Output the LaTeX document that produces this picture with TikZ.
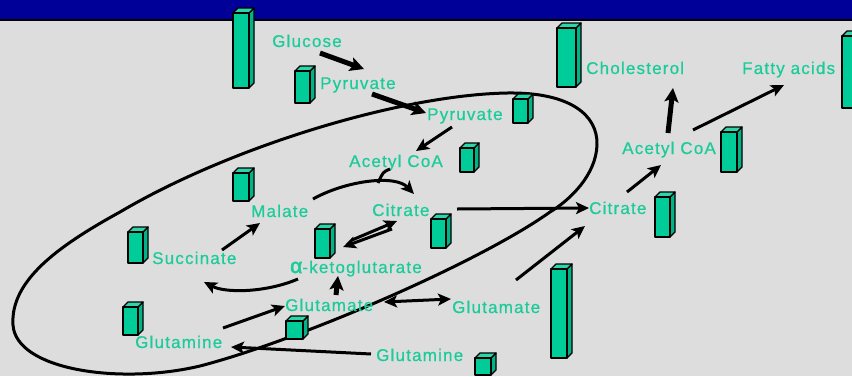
\documentclass[tikz,border=0pt]{standalone}
\usepackage{fontspec}
\setmainfont{Liberation Sans}[LetterSpace=7,FakeBold=0.6]
\usetikzlibrary{arrows.meta}
\definecolor{titleblue}{RGB}{0,0,153}
\definecolor{paper}{RGB}{221,221,221}
\definecolor{tealfront}{RGB}{0,204,153}
\definecolor{tealtop}{RGB}{45,214,170}
\definecolor{tealside}{RGB}{0,180,135}
\definecolor{labelteal}{RGB}{26,204,153}
% a small 3-D bar: x, y (top of front face), width, height
\newcommand\tealbar[4]{%
  \filldraw[boxedge,fill=tealside] (#1+#3,#2) -- ++(5,-5) -- ++(0,#4) -- ++(-5,5) -- cycle;
  \filldraw[boxedge,fill=tealtop] (#1,#2) -- ++(5,-5) -- ++(#3,0) -- ++(-5,5) -- cycle;
  \filldraw[boxedge,fill=tealfront] (#1,#2) rectangle ++(#3,#4);}
\begin{document}
\begin{tikzpicture}[x=1pt,y=-1pt,
  lbl/.style={anchor=base west,inner sep=0pt,text=labelteal,font=\fontsize{17}{20}\selectfont},
  flow/.style={line width=3pt,-{Stealth[length=13pt,width=12pt,inset=3pt]}},
  boldflow/.style={line width=5pt,-{Stealth[length=14pt,width=14pt,inset=3pt]}},
  twoway/.style={line width=3pt,{Stealth[length=13pt,width=12pt,inset=3pt]}-{Stealth[length=13pt,width=12pt,inset=3pt]}},
  membrane/.style={line width=3pt,line join=round},
  boxedge/.style={draw=black,line width=1.3pt,line join=round}]
\useasboundingbox (0,0) rectangle (852,376);
\clip (0,0) rectangle (852,376);
% page and title band
\fill[paper] (0,0) rectangle (852,376);
\fill[titleblue] (0,0) rectangle (852,19);
\draw[line width=1.6pt] (0,19.8) -- (852,19.8);

% mitochondrion outline
\draw[membrane] (13,325) .. controls (10,280) and (60,245) .. (120,212)
  .. controls (230,147) and (400,95) .. (507,93)
  .. controls (570,92) and (598,115) .. (597,145)
  .. controls (596,175) and (570,200) .. (550,212)
  .. controls (480,262) and (300,340) .. (200,366)
  .. controls (120,385) and (16,370) .. cycle;

% bars
\tealbar{233}{13}{16}{75}
\tealbar{295}{71}{15}{32}
\tealbar{513}{99}{15}{24}
\tealbar{557}{28}{19}{59}
\tealbar{842}{36}{16}{72}
\tealbar{721}{132}{16}{40}
\tealbar{655}{197}{15}{40}
\tealbar{460}{148}{14}{24}
\tealbar{233}{173}{16}{28}
\tealbar{315}{229}{15}{29}
\tealbar{431}{219}{15}{29}
\tealbar{128}{232}{15}{31}
\tealbar{123}{307}{15}{28}
\tealbar{286}{321}{17}{18}
\tealbar{475}{358}{16}{17}
\tealbar{551}{269}{16}{89}

% metabolites
\node[lbl] (glucose) at (272,47) {Glucose};
\node[lbl] (pyrC) at (320,89) {Pyruvate};
\node[lbl] (pyrM) at (427,120) {Pyruvate};
\node[lbl] (chol) at (586,74) {Cholesterol};
\node[lbl] (fatty) at (742,74) {Fatty acids};
\node[lbl] (acoaC) at (622,154) {Acetyl CoA};
\node[lbl] (acoaM) at (349,167) {Acetyl CoA};
\node[lbl] (malate) at (251,217) {Malate};
\node[lbl] (citM) at (372,216) {Citrate};
\node[lbl] (citC) at (589,214) {Citrate};
\node[lbl] (succ) at (152,264) {Succinate};
\node[lbl] (akg) at (290,273) {{\addfontfeature{FakeBold=2.5}\fontsize{21}{21}\selectfont α}-ketoglutarate};
\node[lbl] (gluM) at (285,311) {Glutamate};
\node[lbl] (gluC) at (452,313) {Glutamate};
\node[lbl] (glnM) at (135,348) {Glutamine};
\node[lbl] (glnC) at (376,361) {Glutamine};

% arrow end points
\coordinate (glucoseOut) at (320,53);
\coordinate (pyrCIn) at (364,69);
\coordinate (pyrCOut) at (372,94);
\coordinate (pyrMIn) at (426,113);
\coordinate (pyrMOut) at (452,127);
\coordinate (acoaMIn) at (416,151);
\coordinate (acoaMOut) at (390,169);
\coordinate (tcaJoin) at (378,183);
\coordinate (malateOut) at (313,199);
\coordinate (citMIn) at (414,194);
\coordinate (citMDown) at (392,229);
\coordinate (akgUpIn) at (343,247);
\coordinate (akgUpOut) at (352,240);
\coordinate (citMUpIn) at (397,221);
\coordinate (akgOut) at (298,279);
\coordinate (succIn) at (204,282);
\coordinate (succOut) at (222,250);
\coordinate (malateIn) at (260,223);
\coordinate (gluMUp) at (336,295);
\coordinate (akgIn) at (338,276);
\coordinate (glnMOut) at (223,328);
\coordinate (gluMIn) at (285,306);
\coordinate (glnCOut) at (371,354);
\coordinate (glnMIn) at (231,347);
\coordinate (gluMRight) at (384,302);
\coordinate (gluCLeft) at (451,299);
\coordinate (gluCOut) at (516,280);
\coordinate (citCIn) at (585,226);
\coordinate (citMOut) at (457,209);
\coordinate (citCLeft) at (589,208);
\coordinate (citCOut) at (627,192);
\coordinate (acoaCIn) at (661,165);
\coordinate (acoaCUp) at (668,133);
\coordinate (cholIn) at (673,88);
\coordinate (acoaCRight) at (693,130);
\coordinate (fattyIn) at (784,85);

% reactions
\draw[boldflow] (glucoseOut) -- (pyrCIn);
\draw[boldflow] (pyrCOut) -- (pyrMIn);
\draw[flow] (pyrMOut) -- (acoaMIn);
\draw[flow] (malateOut) .. controls (345,181) and (395,174) .. (citMIn);
\draw[line width=3pt] (acoaMOut) .. controls (383,172) .. (tcaJoin);
\draw[flow] (citMDown) -- (akgUpIn);
\draw[flow] (akgUpOut) -- (citMUpIn);
\draw[flow] (akgOut) .. controls (265,293) and (225,293) .. (succIn);
\draw[flow] (succOut) -- (malateIn);
\draw[boldflow] (gluMUp) -- (akgIn);
\draw[flow] (glnMOut) -- (gluMIn);
\draw[flow] (glnCOut) -- (glnMIn);
\draw[twoway] (gluMRight) -- (gluCLeft);
\draw[flow] (gluCOut) -- (citCIn);
\draw[flow] (citMOut) -- (citCLeft);
\draw[flow] (citCOut) -- (acoaCIn);
\draw[boldflow] (acoaCUp) -- (cholIn);
\draw[flow] (acoaCRight) -- (fattyIn);
\end{tikzpicture}
\end{document}
